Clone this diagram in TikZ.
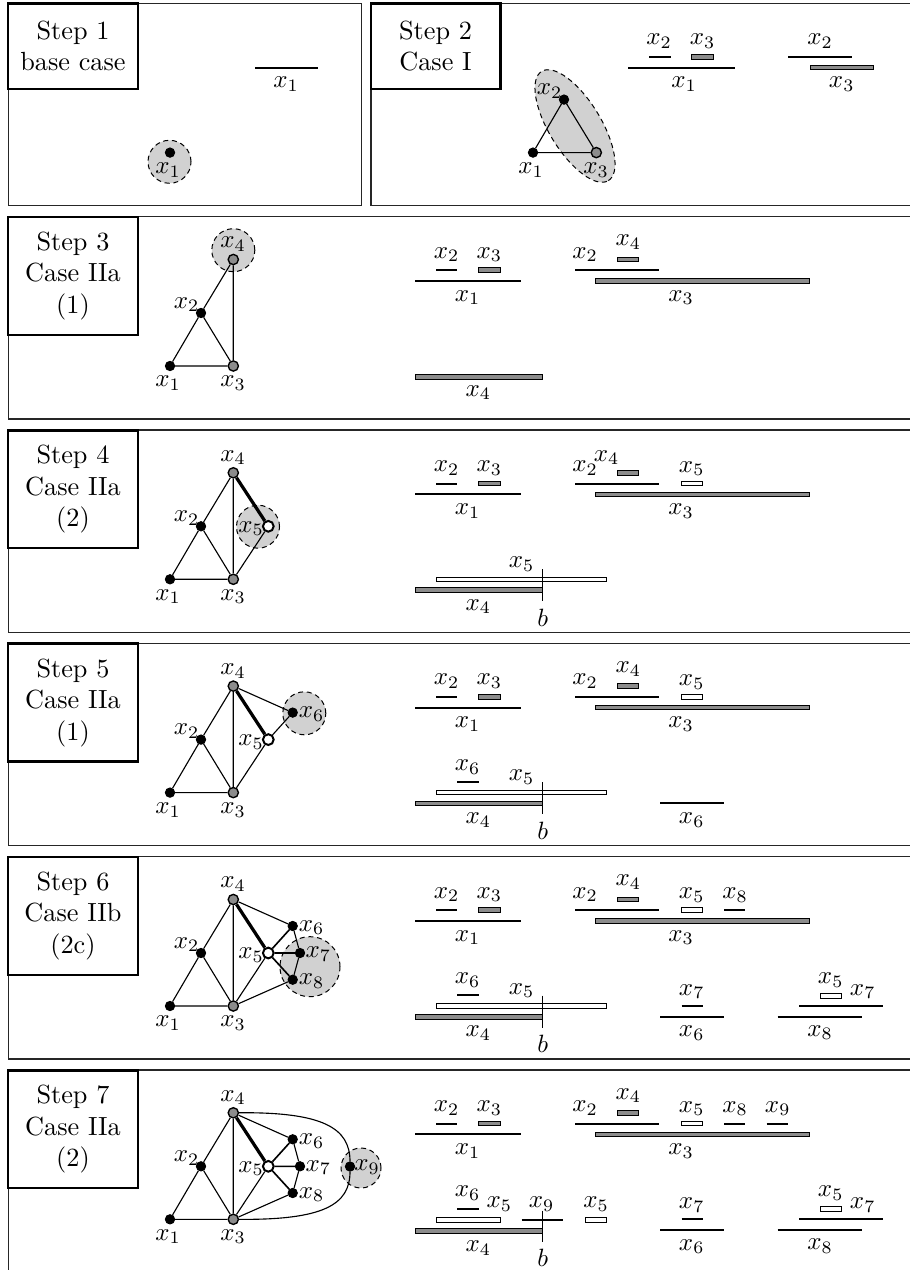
\documentclass[tikz,border=0pt]{standalone}
\begin{document}
\tikzset{
 panel/.style={draw=black!85, line width=0.5pt},
 stepbox/.style={draw, fill=white, line width=1pt, minimum width=51.8pt, minimum height=47.1pt, align=center, inner sep=0pt, font=\fontsize{10.5}{12.6}\selectfont},
 bvtx/.style={circle, fill=black, draw=black, inner sep=0pt, minimum size=3.7pt},
 gvtx/.style={circle, fill=black!45, draw=black, line width=0.55pt, inner sep=0pt, minimum size=4.1pt},
 wvtx/.style={circle, fill=white, draw=black, line width=0.8pt, inner sep=0pt, minimum size=4.3pt},
 edg/.style={line width=0.45pt},
 medg/.style={line width=0.65pt},
 tedg/.style={line width=1.3pt},
 blob/.style={fill=black!18, draw=black, line width=0.4pt, dash pattern=on 2pt off 1.5pt},
 lab/.style={inner sep=0pt, font=\fontsize{10}{12}\selectfont},
 blkline/.style={line width=0.8pt},
 thinline/.style={line width=0.45pt},
 gbar/.style={fill=black!45, draw=black, line width=0.35pt},
 wbar/.style={fill=white, draw=black, line width=0.35pt},
}
\def\PosA{170,149.3}\def\PosB{201,96.3}\def\PosC{233.3,149.3}\def\PosD{233.3,42.8}
\def\PosE{268.3,96.3}\def\PosF{292.7,69.3}\def\PosG{300,96.3}\def\PosH{292.7,123}\def\PosI{350,96.5}
\def\LabA{168,166.5}\def\LabB{186.7,88}\def\LabC{233,166.5}\def\LabD{233,27.5}
\def\LabE{251,98.5}\def\LabF{311.7,71}\def\LabG{318.3,97.5}\def\LabH{311.7,124.5}\def\LabI{367,97}
\newcommand\upbars[3]{%
 \draw[blkline] (415,64.3) -- (521,64.3);
 \node[lab] (#1ua) at (467.7,81) {$x_1$};
 \draw[blkline] (436,53.5) -- (456.7,53.5);
 \node[lab] (#1ub) at (446.7,37.8) {$x_2$};
 \draw[gbar] (478.3,51.2) rectangle (500,55.8);
 \node[lab] (#1uc) at (489.3,37.8) {$x_3$};
 \draw[blkline] (575,53.5) -- (659.3,53.5);
 \node[lab] (#1ud) at (585,37.8) {$x_2$};
 \draw[gbar] (617.3,40.4) rectangle (638.7,45);
 \node[lab] (#1ue) at (#2,#3) {$x_4$};
 \draw[gbar] (595.7,62) rectangle (809.3,66.6);
 \node[lab] (#1uf) at (681,81) {$x_3$};
}
\newcommand\basegraph[1]{%
 \node[bvtx] (#1x1) at (\PosA) {};
 \node[bvtx] (#1x2) at (\PosB) {};
 \node[gvtx] (#1x3) at (\PosC) {};
 \node[gvtx] (#1x4) at (\PosD) {};
}
\newcommand\baselabels[1]{%
 \node[lab] (#1l1) at (\LabA) {$x_1$};
 \node[lab] (#1l2) at (\LabB) {$x_2$};
 \node[lab] (#1l3) at (\LabC) {$x_3$};
 \node[lab] (#1l4) at (\LabD) {$x_4$};
}
\begin{tikzpicture}[x=0.4pt,y=-0.4pt]
\useasboundingbox (0,0) rectangle (909,1270);

% ---------------- Step 1
\begin{scope}[shift={(0,3.3)}]
\draw[panel] (8.5,0) rectangle (361.5,202.4);
\node[stepbox, minimum height=34.3pt] (box1) at (73,42.85) {Step 1\\base case};
\draw[blob] (169.5,158.5) circle[radius=8.6pt];
\node[bvtx] (s1x1) at (\PosA) {};
\node[lab] (s1l1) at (\LabA) {$x_1$};
\draw[blkline] (255,64.3) -- (317.7,64.3);
\node[lab] (s1b1) at (286,81) {$x_1$};
\end{scope}

% ---------------- Step 2
\begin{scope}[shift={(0,3.3)}]
\draw[panel] (371,0) rectangle (915,202.4);
\node[stepbox, minimum height=34.3pt] (box2) at (435.5,42.85) {Step 2\\Case I};
\draw[blkline] (628,64.3) -- (734.5,64.3);
\node[lab] (s2ba) at (684,81) {$x_1$};
\draw[blkline] (649,53.5) -- (670.7,53.5);
\node[lab] (s2bb) at (659,37.8) {$x_2$};
\draw[gbar] (691.6,51.2) rectangle (713,55.8);
\node[lab] (s2bc) at (702.6,37.8) {$x_3$};
\draw[blkline] (788,53.5) -- (852,53.5);
\node[lab] (s2bd) at (820,37.8) {$x_2$};
\draw[gbar] (810,62) rectangle (873.6,66.6);
\node[lab] (s2be) at (841.7,81) {$x_3$};
\end{scope}
\draw[blob, rotate around={-58.6:(575,126)}] (575,126) ellipse [x radius=25.6pt, y radius=10.4pt];
\begin{scope}[shift={(363,3.3)}]
\node[bvtx] (s2x1) at (\PosA) {};
\node[bvtx] (s2x2) at (\PosB) {};
\node[gvtx] (s2x3) at (\PosC) {};
\draw[edg] (s2x1) -- (s2x2) (s2x2) -- (s2x3) (s2x1) -- (s2x3);
\node[lab] (s2l1) at (\LabA) {$x_1$};
\node[lab] (s2l2) at (\LabB) {$x_2$};
\node[lab] (s2l3) at (\LabC) {$x_3$};
\end{scope}

% ---------------- Step 3
\begin{scope}[shift={(0,216.7)}]
\draw[panel] (8.5,0) rectangle (915,202.3);
\node[stepbox] (box3) at (73,59.3) {Step 3\\Case IIa\\(1)};
\draw[blob] (233.3,33.5) circle[radius=8.6pt];
\basegraph{s3}
\draw[edg] (s3x1) -- (s3x2) (s3x2) -- (s3x3) (s3x1) -- (s3x3) (s3x2) -- (s3x4) (s3x3) -- (s3x4);
\baselabels{s3}
\upbars{s3}{628.3}{25.5}
\draw[gbar] (415,157.7) rectangle (542.7,162.3);
\node[lab] (s3da) at (478.3,176) {$x_4$};
\end{scope}

% ---------------- Step 4
\begin{scope}[shift={(0,430)}]
\draw[panel] (8.5,0) rectangle (915,202.3);
\node[stepbox] (box4) at (73,59.3) {Step 4\\Case IIa\\(2)};
\draw[blob] (258,96.7) circle[radius=8.6pt];
\basegraph{s4}
\node[wvtx] (s4x5) at (\PosE) {};
\draw[edg] (s4x1) -- (s4x2) (s4x2) -- (s4x3) (s4x1) -- (s4x3) (s4x2) -- (s4x4) (s4x3) -- (s4x4) (s4x3) -- (s4x5);
\draw[tedg] (s4x4) -- (s4x5);
\baselabels{s4}
\node[lab] (s4l5) at (\LabE) {$x_5$};
\upbars{s4}{606.7}{27.7}
\draw[wbar] (681.7,51.2) rectangle (702.7,55.8);
\node[lab] (s4ug) at (691.7,38.5) {$x_5$};
\draw[wbar] (436,147) rectangle (606.7,151.6);
\node[lab] (s4db) at (521.7,134) {$x_5$};
\draw[gbar] (415,157.7) rectangle (542.7,162.3);
\node[lab] (s4da) at (478.3,176.5) {$x_4$};
\draw[thinline] (542.7,139) -- (542.7,171);
\node[lab] (s4bb) at (542.7,187.5) {$b$};
\end{scope}

% ---------------- Step 5
\begin{scope}[shift={(0,643.3)}]
\draw[panel] (8.5,0) rectangle (915,202.3);
\node[stepbox] (box5) at (73,59.3) {Step 5\\Case IIa\\(1)};
\draw[blob] (304.3,70) circle[radius=8.6pt];
\basegraph{s5}
\node[wvtx] (s5x5) at (\PosE) {};
\node[bvtx] (s5x6) at (\PosF) {};
\draw[edg] (s5x1) -- (s5x2) (s5x2) -- (s5x3) (s5x1) -- (s5x3) (s5x2) -- (s5x4) (s5x3) -- (s5x4) (s5x3) -- (s5x5) (s5x4) -- (s5x6) (s5x5) -- (s5x6);
\draw[tedg] (s5x4) -- (s5x5);
\baselabels{s5}
\node[lab] (s5l5) at (\LabE) {$x_5$};
\node[lab] (s5l6) at (\LabF) {$x_6$};
\upbars{s5}{628.3}{25.5}
\draw[wbar] (681.7,51.2) rectangle (702.7,55.8);
\node[lab] (s5ug) at (691.7,38.5) {$x_5$};
\draw[blkline] (457.3,138.5) -- (478.7,138.5);
\node[lab] (s5dc) at (467.7,123.5) {$x_6$};
\draw[wbar] (436,147) rectangle (606.7,151.6);
\node[lab] (s5db) at (521.7,134) {$x_5$};
\draw[gbar] (415,157.7) rectangle (542.7,162.3);
\node[lab] (s5da) at (478.3,176.5) {$x_4$};
\draw[thinline] (542.7,139) -- (542.7,171);
\node[lab] (s5bb) at (542.7,187.5) {$b$};
\draw[blkline] (660,160) -- (724,160);
\node[lab] (s5dd) at (691.7,176.5) {$x_6$};
\end{scope}

% ---------------- Step 6
\begin{scope}[shift={(0,856.7)}]
\draw[panel] (8.5,0) rectangle (915,202.3);
\node[stepbox] (box6) at (73,59.3) {Step 6\\Case IIb\\(2c)};
\draw[blob] (310,110) circle[radius=12pt];
\basegraph{s6}
\node[wvtx] (s6x5) at (\PosE) {};
\node[bvtx] (s6x6) at (\PosF) {};
\node[bvtx] (s6x7) at (\PosG) {};
\node[bvtx] (s6x8) at (\PosH) {};
\draw[edg] (s6x1) -- (s6x2) (s6x2) -- (s6x3) (s6x1) -- (s6x3) (s6x2) -- (s6x4) (s6x3) -- (s6x4) (s6x3) -- (s6x5) (s6x4) -- (s6x6) (s6x6) -- (s6x7) (s6x7) -- (s6x8) (s6x3) -- (s6x8);
\draw[medg] (s6x5) -- (s6x6) (s6x5) -- (s6x7) (s6x5) -- (s6x8);
\draw[tedg] (s6x4) -- (s6x5);
\baselabels{s6}
\node[lab] (s6l5) at (\LabE) {$x_5$};
\node[lab] (s6l6) at (\LabF) {$x_6$};
\node[lab] (s6l7) at (\LabG) {$x_7$};
\node[lab] (s6l8) at (\LabH) {$x_8$};
\upbars{s6}{628.3}{25.5}
\draw[wbar] (681.7,51.2) rectangle (702.7,55.8);
\node[lab] (s6ug) at (691.7,38.5) {$x_5$};
\draw[blkline] (724.3,53.5) -- (745.3,53.5);
\node[lab] (s6uh) at (735,38.5) {$x_8$};
\draw[blkline] (457.3,138.5) -- (478.7,138.5);
\node[lab] (s6dc) at (467.7,123.5) {$x_6$};
\draw[wbar] (436,147) rectangle (606.7,151.6);
\node[lab] (s6db) at (521.7,134) {$x_5$};
\draw[gbar] (415,157.7) rectangle (542.7,162.3);
\node[lab] (s6da) at (478.3,176.5) {$x_4$};
\draw[thinline] (542.7,139) -- (542.7,171);
\node[lab] (s6bb) at (542.7,187.5) {$b$};
\draw[blkline] (681.7,149.3) -- (702.7,149.3);
\node[lab] (s6de) at (691.7,135) {$x_7$};
\draw[blkline] (660,160) -- (724,160);
\node[lab] (s6dd) at (691.7,176.5) {$x_6$};
\draw[wbar] (820,136.7) rectangle (841.7,141.3);
\node[lab] (s6dg) at (830.7,123.3) {$x_5$};
\draw[blkline] (799,149.3) -- (883.3,149.3);
\node[lab] (s6dh) at (862.7,135) {$x_7$};
\draw[blkline] (777.7,160) -- (862.3,160);
\node[lab] (s6di) at (820,176) {$x_8$};
\end{scope}

% ---------------- Step 7
\begin{scope}[shift={(0,1070)}]
\draw[panel] (8.5,0) rectangle (915,215);
\node[stepbox] (box7) at (73,59.3) {Step 7\\Case IIa\\(2)};
\draw[blob] (361,98) circle[radius=8pt];
\basegraph{s7}
\node[wvtx] (s7x5) at (\PosE) {};
\node[bvtx] (s7x6) at (\PosF) {};
\node[bvtx] (s7x7) at (\PosG) {};
\node[bvtx] (s7x8) at (\PosH) {};
\node[bvtx] (s7x9) at (\PosI) {};
\draw[edg] (s7x1) -- (s7x2) (s7x2) -- (s7x3) (s7x1) -- (s7x3) (s7x2) -- (s7x4) (s7x3) -- (s7x4) (s7x3) -- (s7x5) (s7x4) -- (s7x6) (s7x6) -- (s7x7) (s7x7) -- (s7x8) (s7x3) -- (s7x8);
\draw[medg] (s7x5) -- (s7x6) (s7x5) -- (s7x7) (s7x5) -- (s7x8);
\draw[tedg] (s7x4) -- (s7x5);
\draw[edg] (s7x4) .. controls (323,42) and (350,58) .. (s7x9);
\draw[edg] (s7x3) .. controls (323,150) and (350,135) .. (s7x9);
\baselabels{s7}
\node[lab] (s7l5) at (\LabE) {$x_5$};
\node[lab] (s7l6) at (\LabF) {$x_6$};
\node[lab] (s7l7) at (\LabG) {$x_7$};
\node[lab] (s7l8) at (\LabH) {$x_8$};
\node[lab] (s7l9) at (\LabI) {$x_9$};
\upbars{s7}{628.3}{25.5}
\draw[wbar] (681.7,51.2) rectangle (702.7,55.8);
\node[lab] (s7ug) at (691.7,38.5) {$x_5$};
\draw[blkline] (724.3,53.5) -- (745.3,53.5);
\node[lab] (s7uh) at (735,38.5) {$x_8$};
\draw[blkline] (766.7,53.5) -- (787.7,53.5);
\node[lab] (s7ui) at (777.7,38.5) {$x_9$};
\draw[blkline] (457.3,139) -- (478.7,139);
\node[lab] (s7dc) at (467.7,123.3) {$x_6$};
\draw[wbar] (436,147.7) rectangle (500,152.3);
\node[lab] (s7db) at (499.3,134.3) {$x_5$};
\draw[blkline] (521.7,150) -- (563.3,150);
\node[lab] (s7dj) at (541.7,134) {$x_9$};
\draw[wbar] (585.7,147.7) rectangle (606.7,152.3);
\node[lab] (s7dk) at (596,134) {$x_5$};
\draw[gbar] (415,158.4) rectangle (542.7,163);
\node[lab] (s7da) at (478.3,178) {$x_4$};
\draw[thinline] (542.7,140.7) -- (542.7,171.7);
\node[lab] (s7bb) at (542.7,188.3) {$b$};
\draw[blkline] (681.7,149.3) -- (702.7,149.3);
\node[lab] (s7de) at (691.7,135) {$x_7$};
\draw[blkline] (660,160) -- (724,160);
\node[lab] (s7dd) at (691.7,176.5) {$x_6$};
\draw[wbar] (820,136.7) rectangle (841.7,141.3);
\node[lab] (s7dg) at (830.7,123.3) {$x_5$};
\draw[blkline] (799,149.3) -- (883.3,149.3);
\node[lab] (s7dh) at (862.7,135) {$x_7$};
\draw[blkline] (777.7,160) -- (862.3,160);
\node[lab] (s7di) at (820,176) {$x_8$};
\end{scope}
\end{tikzpicture}
\end{document}
